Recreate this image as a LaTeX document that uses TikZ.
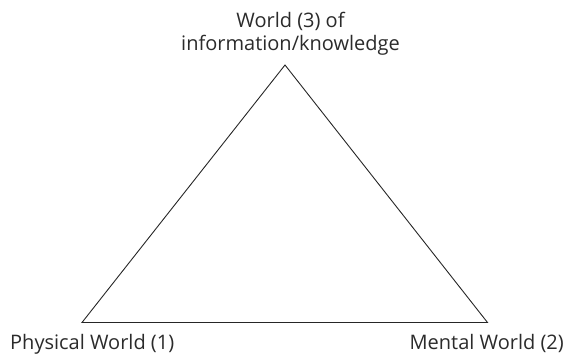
\documentclass[tikz,border=0pt]{standalone}
\usepackage{fontspec}
\setmainfont{Open Sans}
\usepackage{tikz}
\definecolor{txtgray}{HTML}{2b2b2b}
\tikzstyle{world}=[inner sep = 0 cm, text = txtgray, font = \fontsize{20}{23}\selectfont]
\tikzstyle{side}=[draw = black!85, line width = .9pt, line join = miter]

\begin{document}
\begin{tikzpicture}[x=1pt, y=1pt]
  \useasboundingbox (0,0) rectangle (567,354);
  \coordinate (phys) at (82,31.5);
  \coordinate (ment) at (487.5,31.5);
  \coordinate (info) at (285,289);
  \draw[side] (phys) -- (ment) -- (info) -- cycle;
  \node[world, anchor = base west] (physlabel) at (10,4.5) {Physical World (1)};
  \node[world, anchor = base east] (mentlabel) at (564,4.5) {Mental World (2)};
  \node[world, anchor = base, align = center] (infolabel) at (290.5,303.5)
    {World (3) of\\ information/knowledge};
\end{tikzpicture}
\end{document}
